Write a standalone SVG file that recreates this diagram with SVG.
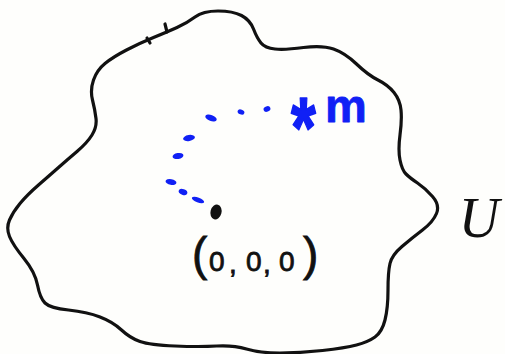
<svg xmlns="http://www.w3.org/2000/svg" width="505" height="354" viewBox="0 0 505 354">
  <style>
    .outline { fill: none; stroke: #111; stroke-width: 3.2; stroke-linecap: round; stroke-linejoin: round; }
    .blue { fill: #1020f5; }
    .ink { fill: #111; }
    .lbl { font-family: "Liberation Sans", Arial, sans-serif; fill: #111; stroke: #111; stroke-width: 0.8; }
    .blbl { font-family: "Liberation Sans", Arial, sans-serif; font-weight: bold; fill: #1020f5; stroke: #1020f5; stroke-linejoin: round; }
  </style>
  <rect width="505" height="354" fill="#fefefc"/>
  <g id="region-U">
    <path class="outline" d="M93.5,80 Q97,70 105,63.5 Q113,57 126.5,50 Q140,43 153.5,37.5 Q167,32 177,27.5 Q187,23 195,17 Q203,11 218,11 Q233,11 241.5,15.5 Q250,20 253.5,29 Q257,38 261,43 Q265,48 275,49 Q285,50 303.5,47.5 Q322,45 333.5,49 Q345,53 356.5,64 Q368,75 378,80 Q388,85 394,92.5 Q400,100 401,110 Q402,120 400,135 Q398,150 400,160 Q402,170 406,174 Q410,178 417.5,183 Q425,188 432.5,196.5 Q440,205 436.5,213.5 Q433,222 422.5,230 Q412,238 402,246.5 Q392,255 390,263.5 Q388,272 388,290 Q388,308 385,320 Q382,332 375,337 Q368,342 356.5,345 Q345,348 322.5,350.5 Q300,353 280,353 Q260,353 246.5,349 Q233,345 216.5,346 Q200,347 175,346 Q150,345 140,341.5 Q130,338 121.5,330 Q113,322 100,317 Q87,312 68.5,310 Q50,308 45,303 Q40,298 37.5,285 Q35,272 24,258.5 Q13,245 9.5,236.5 Q6,228 9.5,220 Q13,212 20,203.5 Q27,195 38.5,185 Q50,175 58.5,167.5 Q67,160 77,151.5 Q87,143 92,135 Q97,127 96,118.5 Q95,110 92.5,100 Q90,90 93.5,80 Z"/>
    <path class="outline" stroke-width="2" d="M165,24 L167,32 M147,38 L150,43"/>
    <text x="479" y="237" text-anchor="middle" font-size="56" font-style="italic" style="font-family:'Liberation Serif','Times New Roman',serif;fill:#111">U</text>
  </g>
  <g id="origin">
    <ellipse class="ink" cx="216" cy="212" rx="5.5" ry="7.5" transform="rotate(15 216 212)"/>
    <text class="lbl"><tspan x="192" y="270" font-size="46">(</tspan><tspan x="209" y="271" font-size="28">0</tspan><tspan x="229" y="273" font-size="28">,</tspan><tspan x="246" y="271" font-size="28">0</tspan><tspan x="263" y="273" font-size="28">,</tspan><tspan x="279" y="271" font-size="28">0</tspan><tspan x="303" y="270" font-size="46">)</tspan></text>
  </g>
  <g id="point-m">
    <text class="blbl" font-size="85" stroke-width="1.6" text-anchor="middle" transform="translate(303.5 0) scale(0.75 1)" x="0" y="157">*</text>
    <text class="blbl" x="325" y="122" font-size="47" stroke-width="0.8">m</text>
  </g>
  <g id="connectors">
    <ellipse class="blue" cx="198" cy="200" rx="6.5" ry="2.5" transform="rotate(20 198 200)"/>
    <ellipse class="blue" cx="183" cy="192" rx="4.5" ry="2.8" transform="rotate(20 183 192)"/>
    <ellipse class="blue" cx="171" cy="182" rx="5.5" ry="2.8" transform="rotate(10 171 182)"/>
    <ellipse class="blue" cx="178" cy="156" rx="5.5" ry="3" transform="rotate(-10 178 156)"/>
    <ellipse class="blue" cx="189" cy="138" rx="6" ry="3" transform="rotate(-10 189 138)"/>
    <ellipse class="blue" cx="211" cy="118" rx="6" ry="3" transform="rotate(20 211 118)"/>
    <ellipse class="blue" cx="241" cy="112" rx="3.5" ry="2.5" transform="rotate(20 241 112)"/>
    <ellipse class="blue" cx="267" cy="109" rx="3.5" ry="2.7" transform="rotate(-20 267 109)"/>
  </g>
</svg>
